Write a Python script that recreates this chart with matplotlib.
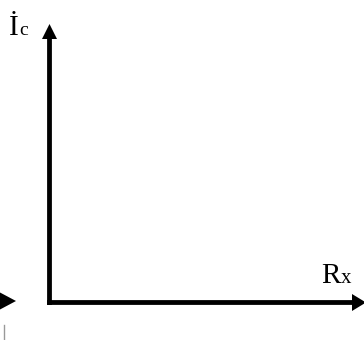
import matplotlib
matplotlib.use("Agg")
import matplotlib.pyplot as plt

# Labels (main letter, small suffix)
y_label = ("İ", "c")
x_label = ("R", "x")

W, H = 364, 340
fig = plt.figure(figsize=(W / 100, H / 100), dpi=100)
ax = fig.add_axes([0, 0, 1, 1])
ax.set_xlim(0, W)
ax.set_ylim(H, 0)
ax.axis("off")

font = "Liberation Serif"
ox, oy = 49.5, 302.5

# vertical axis arrow
ax.arrow(ox, oy + 2.5, 0, 24 - (oy + 2.5), width=4.8, head_width=15, head_length=15,
         length_includes_head=True, color="black", lw=0)
# horizontal axis arrow
ax.arrow(ox - 2.4, oy, 366 - (ox - 2.4), 0, width=4.8, head_width=17, head_length=14,
         length_includes_head=True, color="black", lw=0)
# partial arrow at left edge
ax.arrow(-40, 301, 56, 0, width=4.8, head_width=17, head_length=16,
         length_includes_head=True, color="black", lw=0)
# cropped mark at bottom left
ax.plot([3.5, 3.5], [325, 341], color="#999999", lw=1)

# labels
ax.text(9, 35, y_label[0], fontsize=21, family=font, va="baseline", ha="left")
ax.text(19.5, 35, y_label[1], fontsize=14, family=font, va="baseline", ha="left")
ax.text(321, 283, x_label[0], fontsize=21, family=font, va="baseline", ha="left")
ax.text(340.5, 283, x_label[1], fontsize=15, family=font, va="baseline", ha="left")

fig.savefig("out.png", dpi=100)
